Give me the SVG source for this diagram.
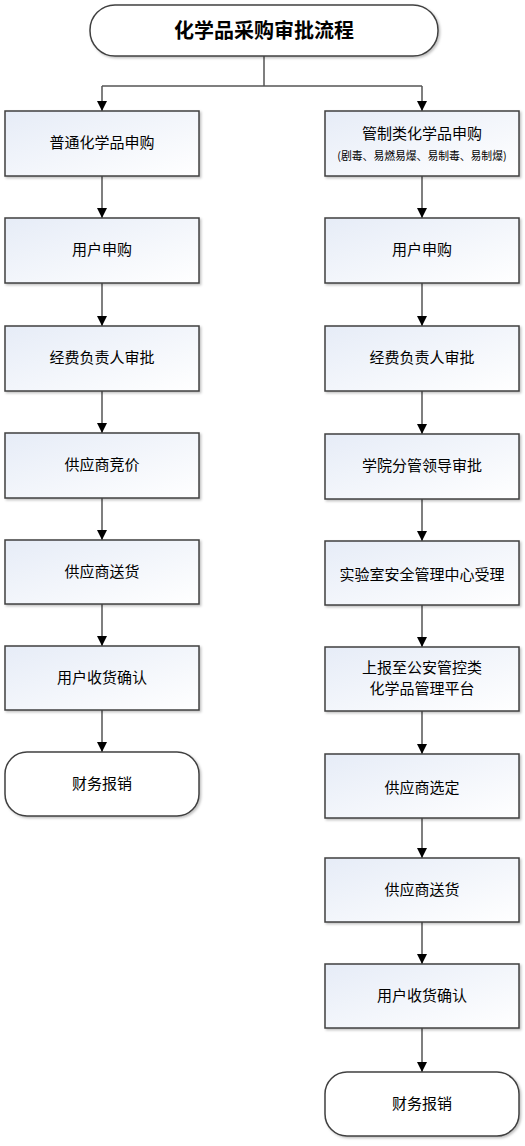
<svg xmlns="http://www.w3.org/2000/svg" width="525" height="1146" viewBox="0 0 525 1146">
<defs>
<linearGradient id="g" x1="0" y1="0" x2="1" y2="1">
<stop offset="0" stop-color="#e6ecf7"/>
<stop offset="1" stop-color="#ffffff"/>
</linearGradient>
<filter id="sh" x="-5%" y="-5%" width="115%" height="120%">
<feDropShadow dx="1.5" dy="1.5" stdDeviation="1" flood-color="#000" flood-opacity="0.25"/>
</filter>
<marker id="ah" viewBox="0 0 10 10" refX="10" refY="5" markerWidth="10" markerHeight="10" markerUnits="userSpaceOnUse" orient="auto">
<path d="M0,0 L10,5 L0,10 z" fill="#000"/>
</marker>
</defs>
<style>
.box{fill:url(#g);stroke:#404040;stroke-width:1.5;filter:url(#sh)}
.term{fill:#fff;stroke:#404040;stroke-width:1.5;filter:url(#sh)}
.t{font-family:"Noto Sans CJK SC","Noto Sans CJK JP",sans-serif;font-size:15px;font-weight:400;fill:#000;text-anchor:middle;dominant-baseline:central}
.s{font-size:10.8px}
.title{font-size:20px;font-weight:bold}
.c{fill:none;stroke:#555;stroke-width:1.5}
.a{fill:none;stroke:#555;stroke-width:1.5;marker-end:url(#ah)}
</style>
<g id="connectors">
<path class="c" d="M264,56 V86 M102,86 H422"/>
<path class="a" d="M102,86 V111"/>
<path class="a" d="M422,86 V111"/>
<path class="a" d="M102,176 V218"/>
<path class="a" d="M102,283 V326"/>
<path class="a" d="M102,391 V433"/>
<path class="a" d="M102,498 V540"/>
<path class="a" d="M102,604 V646"/>
<path class="a" d="M102,710 V752"/>
<path class="a" d="M422,176 V218"/>
<path class="a" d="M422,283 V326"/>
<path class="a" d="M422,391 V434"/>
<path class="a" d="M422,499 V541"/>
<path class="a" d="M422,605 V647"/>
<path class="a" d="M422,711 V754"/>
<path class="a" d="M422,818 V858"/>
<path class="a" d="M422,922 V964"/>
<path class="a" d="M422,1028 V1072"/>
</g>
<g id="title"><rect class="term" x="90" y="5" width="348" height="51" rx="25"/><text class="t title" x="264" y="29">化学品采购审批流程</text></g>
<g id="L1"><rect class="box" x="5" y="111" width="194" height="65"/><text class="t" x="102" y="141">普通化学品申购</text></g>
<g id="L2"><rect class="box" x="5" y="218" width="194" height="65"/><text class="t" x="102" y="248">用户申购</text></g>
<g id="L3"><rect class="box" x="5" y="326" width="194" height="65"/><text class="t" x="102" y="356">经费负责人审批</text></g>
<g id="L4"><rect class="box" x="5" y="433" width="194" height="65"/><text class="t" x="102" y="463">供应商竞价</text></g>
<g id="L5"><rect class="box" x="5" y="540" width="194" height="64"/><text class="t" x="102" y="570">供应商送货</text></g>
<g id="L6"><rect class="box" x="5" y="646" width="194" height="64"/><text class="t" x="102" y="676">用户收货确认</text></g>
<g id="L7"><rect class="term" x="5" y="752" width="194" height="64" rx="22"/><text class="t" x="102" y="782">财务报销</text></g>
<g id="R1"><rect class="box" x="325" y="111" width="194" height="65"/><text class="t" x="422" y="132">管制类化学品申购</text><text class="t s" x="422" y="155">(剧毒、易燃易爆、易制毒、易制爆)</text></g>
<g id="R2"><rect class="box" x="325" y="218" width="194" height="65"/><text class="t" x="422" y="248">用户申购</text></g>
<g id="R3"><rect class="box" x="325" y="326" width="194" height="65"/><text class="t" x="422" y="356">经费负责人审批</text></g>
<g id="R4"><rect class="box" x="325" y="434" width="194" height="65"/><text class="t" x="422" y="464">学院分管领导审批</text></g>
<g id="R5"><rect class="box" x="325" y="541" width="194" height="64"/><text class="t" x="422" y="573">实验室安全管理中心受理</text></g>
<g id="R6"><rect class="box" x="325" y="647" width="194" height="64"/><text class="t" x="422" y="666">上报至公安管控类</text><text class="t" x="422" y="687">化学品管理平台</text></g>
<g id="R7"><rect class="box" x="325" y="754" width="194" height="64"/><text class="t" x="422" y="786">供应商选定</text></g>
<g id="R8"><rect class="box" x="325" y="858" width="194" height="64"/><text class="t" x="422" y="888">供应商送货</text></g>
<g id="R9"><rect class="box" x="325" y="964" width="194" height="64"/><text class="t" x="422" y="994">用户收货确认</text></g>
<g id="R10"><rect class="term" x="325" y="1072" width="194" height="64" rx="22"/><text class="t" x="422" y="1102">财务报销</text></g>
</svg>
